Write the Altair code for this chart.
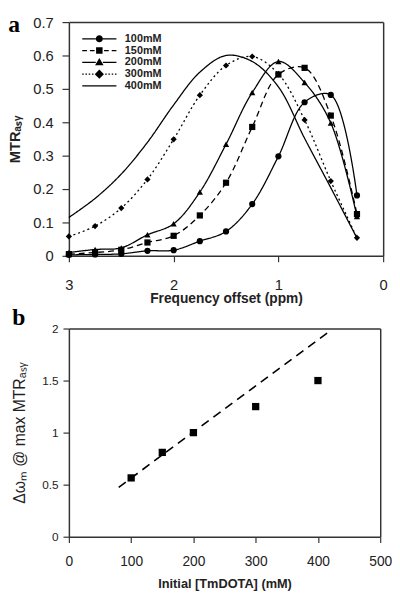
import altair as alt
import pandas as pd

# ---------------- data: panel a ----------------
freq_offset_ppm = [3, 2.75, 2.5, 2.25, 2, 1.75, 1.5, 1.25, 1, 0.75, 0.5, 0.25]
series_names = ["100mM", "150mM", "200mM", "300mM", "400mM"]
mtr_100 = [0.003, 0.004, 0.006, 0.015, 0.017, 0.044, 0.073, 0.155, 0.298, 0.460, 0.482, 0.181]
mtr_150 = [0.005, 0.010, 0.018, 0.040, 0.060, 0.121, 0.219, 0.386, 0.543, 0.563, 0.420, 0.125]
mtr_200 = [0.010, 0.019, 0.024, 0.063, 0.096, 0.191, 0.334, 0.489, 0.582, 0.519, 0.398, 0.118]
mtr_300 = [0.058, 0.089, 0.143, 0.229, 0.349, 0.481, 0.570, 0.597, 0.545, 0.407, 0.224, 0.054]
mtr_400 = [0.115, 0.172, 0.245, 0.340, 0.452, 0.550, 0.600, 0.582, 0.506, 0.352, 0.204, 0.053]

# ---------------- data: panel b ----------------
conc_mM = [100, 150, 200, 300, 400]
peak_offset = [0.565, 0.81, 1.0, 1.25, 1.5]
fit_conc = [80, 420]
fit_offset = [0.475, 1.98]

# ---------------- styles ----------------
dash_of = {"100mM": [1, 0], "150mM": [6, 4], "200mM": [1, 0], "300mM": [2, 3], "400mM": [1, 0]}
marker_of = {"100mM": "circle", "150mM": "square", "200mM": "triangle-up", "300mM": "diamond"}


def rects(segs, h=0.11):
    return "".join(f"M{a},{-h}H{b}V{h}H{a}Z" for a, b in segs)


def mirror(segs):
    return segs + [(-b, -a) for a, b in segs]


circle_p = "M0.6,0A0.6,0.6,0,1,1,-0.6,0A0.6,0.6,0,1,1,0.6,0Z"
square_p = "M-0.55,-0.55H0.55V0.55H-0.55Z"
tri_p = "M0,-0.75L0.72,0.5H-0.72Z"
diamond_p = "M0,-0.78L0.78,0L0,0.78L-0.78,0Z"
legend_paths = [
    rects(mirror([(-2.9, -0.6)])) + circle_p,
    rects(mirror([(-2.9, -2.1), (-1.6, -0.8)])) + square_p,
    rects(mirror([(-2.9, -0.6)])) + tri_p,
    rects(mirror([(-2.9, -2.65), (-2.35, -2.1), (-1.8, -1.55), (-1.25, -1.0)])) + diamond_p,
    rects([(-2.9, 2.9)]),
]

rows = []
for name, vals in zip(series_names, [mtr_100, mtr_150, mtr_200, mtr_300, mtr_400]):
    for xv, yv in zip(freq_offset_ppm, vals):
        rows.append({"offset": xv, "mtr": yv, "series": name})
df_a = pd.DataFrame(rows)

FONT = "Liberation Sans"
INK = "#222222"
FRAME = "#333333"
FRAME_AX = dict(labels=False, ticks=False, title=None, domainColor=FRAME, domainWidth=1.5)

sc_xa = alt.Scale(domain=[0, 3], reverse=True, nice=False)
sc_ya = alt.Scale(domain=[0, 0.7], nice=False)

x_a = alt.X("offset:Q", scale=sc_xa,
            axis=alt.Axis(values=[0, 1, 2, 3], format="d", title="Frequency offset (ppm)",
                          labelFontSize=15, titleFontSize=14, labelPadding=16, titlePadding=0))
y_a = alt.Y("mtr:Q", scale=sc_ya,
            axis=alt.Axis(values=[0, 0.1, 0.2, 0.3, 0.4, 0.5, 0.6, 0.7], format=".1~f",
                          title="MTRₐₛᵧ", labelFontSize=15, titleFontSize=15,
                          tickSize=7, labelPadding=9, titlePadding=10))
x_a_plain = alt.X("offset:Q", scale=sc_xa, axis=None)
y_a_plain = alt.Y("mtr:Q", scale=sc_ya, axis=None)
x_a_top = alt.X("offset:Q", scale=sc_xa, axis=alt.Axis(orient="top", **FRAME_AX))
y_a_right = alt.Y("mtr:Q", scale=sc_ya, axis=alt.Axis(orient="right", **FRAME_AX))

layers_a = []
for i, name in enumerate(series_names):
    layers_a.append(
        alt.Chart(df_a).transform_filter(alt.datum.series == name)
        .mark_line(color="black", strokeWidth=1.3, strokeDash=dash_of[name],
                   interpolate="catmull-rom")
        .encode(x=x_a if i == 0 else x_a_plain, y=y_a if i == 0 else y_a_plain)
    )
for name in series_names[:4]:
    layers_a.append(
        alt.Chart(df_a).transform_filter(alt.datum.series == name)
        .mark_point(shape=marker_of[name], filled=True, color="black", size=40, opacity=1)
        .encode(x=x_a_plain, y=y_a_plain)
    )

legend_layer = (
    alt.Chart(df_a).transform_filter(alt.datum.series == "none")
    .mark_point(filled=True, color="black", opacity=1)
    .encode(
        x=x_a_top, y=y_a_right,
        shape=alt.Shape("series:N",
                        scale=alt.Scale(domain=series_names, range=legend_paths),
                        legend=alt.Legend(title=None, orient="none", legendX=25, legendY=11,
                                          symbolSize=144, symbolStrokeWidth=0,
                                          symbolFillColor="black",
                                          labelFont=FONT, labelFontWeight="bold",
                                          labelFontSize=11, labelColor=INK,
                                          labelOffset=20, rowPadding=1, padding=0)),
    )
)

panel_a = alt.layer(*layers_a, legend_layer).resolve_axis(
    x="independent", y="independent"
).properties(
    width=320, height=238,
    title=alt.TitleParams("a", anchor="start", frame="bounds", font="Liberation Serif",
                          fontSize=24, fontWeight="bold", color="black", offset=-22),
)

# ---------------- panel b ----------------
df_pts = pd.DataFrame({"conc": conc_mM, "peak": peak_offset})
df_fit = pd.DataFrame({"conc": fit_conc, "peak": fit_offset})

sc_xb = alt.Scale(domain=[0, 500], nice=False)
sc_yb = alt.Scale(domain=[0, 2], nice=False)
x_b = alt.X("conc:Q", scale=sc_xb,
            axis=alt.Axis(values=[0, 100, 200, 300, 400, 500], title="Initial [TmDOTA] (mM)",
                          labelFontSize=14, titleFontSize=13, labelPadding=12, titlePadding=10))
y_b = alt.Y("peak:Q", scale=sc_yb,
            axis=alt.Axis(values=[0, 0.5, 1, 1.5, 2], format=".1~f",
                          title="Δωₘ @ max MTRₐₛᵧ", titleFontWeight="normal",
                          labelFontSize=12, titleFontSize=16, tickSize=6,
                          labelPadding=5, titlePadding=14))
x_b_top = alt.X("conc:Q", scale=sc_xb, axis=alt.Axis(orient="top", **FRAME_AX))
y_b_right = alt.Y("peak:Q", scale=sc_yb, axis=alt.Axis(orient="right", **FRAME_AX))

fit_line = alt.Chart(df_fit).mark_line(color="black", strokeWidth=1.6, strokeDash=[9, 6]).encode(x=x_b, y=y_b)
pts = alt.Chart(df_pts).mark_square(color="black", size=55, opacity=1).encode(x=x_b_top, y=y_b_right)

panel_b = alt.layer(fit_line, pts).resolve_axis(
    x="independent", y="independent"
).properties(
    width=317, height=212,
    title=alt.TitleParams("b", anchor="start", frame="bounds", font="Liberation Serif",
                          fontSize=24, fontWeight="bold", color="black", offset=-7),
)

chart = alt.concat(panel_a, panel_b, columns=1, spacing=0).properties(
    padding=0, background="white"
).configure_view(
    stroke=None
).configure_axis(
    grid=False, domainColor=FRAME, domainWidth=1.5, tickColor=FRAME, tickSize=6,
    tickWidth=1.2, labelFont=FONT, titleFont=FONT, labelColor=INK, titleColor=INK,
    titleFontWeight="bold", labelFlush=False,
)

chart.save("out.html", embed_options={"renderer": "svg", "actions": False})
